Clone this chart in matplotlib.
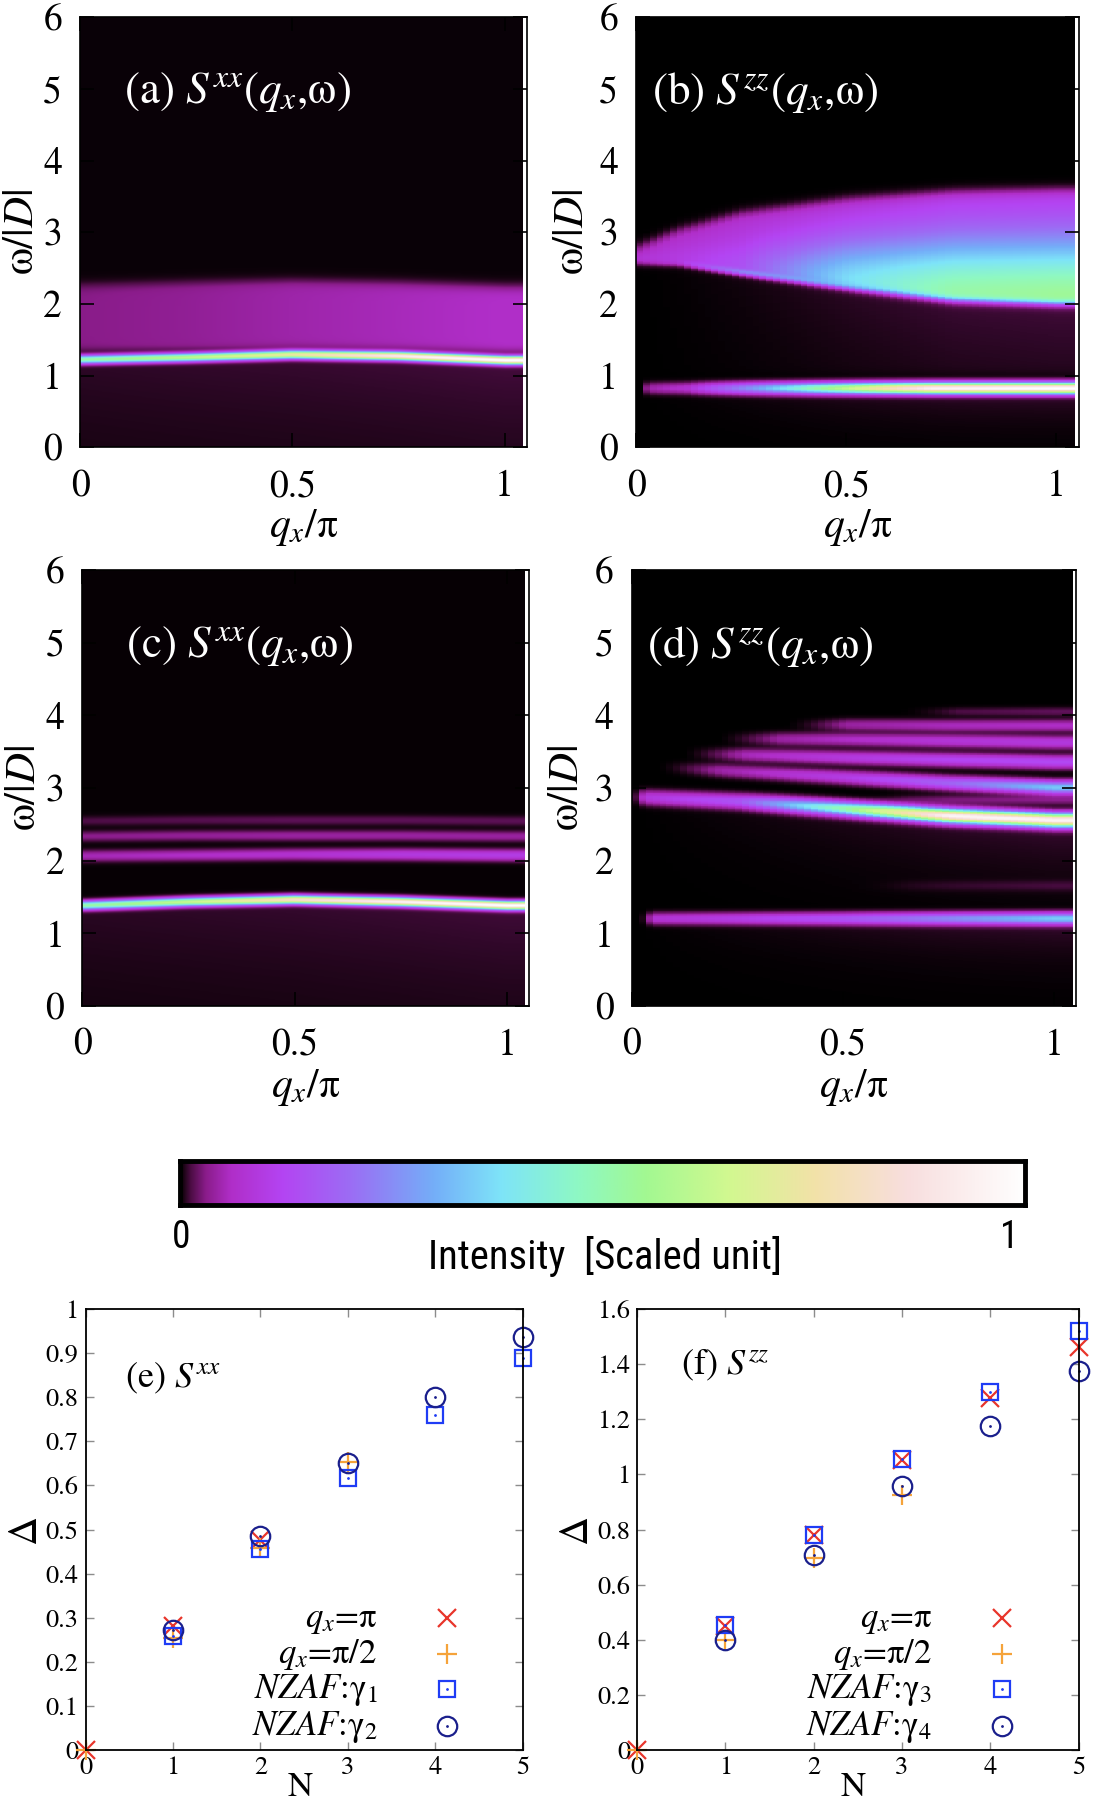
import numpy as np
import matplotlib
matplotlib.use("Agg")
import matplotlib.pyplot as plt
from matplotlib.colors import LinearSegmentedColormap
from matplotlib import font_manager

plt.rcParams["font.family"] = ["STIXGeneral", "DejaVu Serif"]
plt.rcParams["mathtext.fontset"] = "stix"

# ---------------- spectra: band parameters ----------------
QN = [0.0, 0.25, 0.5, 0.75, 1.0]          # q_x/pi nodes

# (a) S^xx
a_line_w = [1.22, 1.25, 1.29, 1.27, 1.21]
a_line_amp = [0.50, 0.60, 0.72, 0.92, 1.00]
a_cont_lo = [1.35, 1.37, 1.40, 1.38, 1.34]
a_cont_hi = [2.25, 2.28, 2.30, 2.27, 2.22]
a_cont_amp = [0.028, 0.034, 0.044, 0.052, 0.060]
a_floor = [0.006, 0.007, 0.008, 0.009, 0.010]

# (b) S^zz
b_low_w = 0.82
b_low_q = [0.0, 0.012, 0.03, 0.12, 0.3, 0.5, 0.7, 1.0]
b_low_amp = [0.0, 0.0, 0.045, 0.07, 0.30, 0.62, 0.95, 1.0]
b_cq = [0.0, 0.1, 0.25, 0.5, 0.75, 1.0]
b_lo = [2.58, 2.57, 2.44, 2.24, 2.06, 2.01]
b_hi = [2.76, 3.00, 3.24, 3.43, 3.53, 3.56]
b_edge = [0.09, 0.10, 0.15, 0.38, 0.52, 0.55]
b_top = [0.06, 0.065, 0.07, 0.07, 0.08, 0.08]
b_edge_line = [0.0, 0.03, 0.15, 0.08, 0.0, 0.0]
b_tail = [0.0, 0.001, 0.003, 0.007, 0.010, 0.011]

# (c) S^xx
c_line_w = [1.38, 1.43, 1.46, 1.43, 1.38]
c_line_amp = [0.50, 0.62, 0.82, 0.95, 1.00]
c_b1_w = [2.06, 2.07, 2.08, 2.08, 2.07]
c_b1_amp = [0.05, 0.06, 0.07, 0.09, 0.10]
c_b2_w = [2.33, 2.34, 2.34, 2.34, 2.33]
c_b2_amp = [0.03, 0.035, 0.04, 0.04, 0.04]
c_b3_w = [2.54, 2.55, 2.55, 2.55, 2.54]
c_b3_amp = [0.012, 0.014, 0.016, 0.016, 0.016]
c_floor = [0.006, 0.007, 0.008, 0.009, 0.010]

# (d) S^zz : centre, amplitude, q where the branch appears, width
d_main_w = [2.87, 2.81, 2.71, 2.61, 2.55]
d_main_amp = [0.08, 0.15, 0.50, 0.95, 0.95]
d_b2_w = [3.30, 3.22, 3.14, 3.06, 3.00]
d_b2_amp = [0.02, 0.05, 0.10, 0.18, 0.34]
d_b3_w = [3.48, 3.45, 3.41, 3.38, 3.35]
d_b3_amp = [0.02, 0.05, 0.09, 0.12, 0.13]
d_b4_w = [3.68, 3.67, 3.66, 3.64, 3.62]
d_b4_amp = [0.0, 0.03, 0.06, 0.08, 0.09]
d_b5_w = [3.86, 3.86, 3.86, 3.85, 3.85]
d_b5_amp = [0.0, 0.0, 0.04, 0.055, 0.06]
d_b6_w = [4.04, 4.04, 4.04, 4.04, 4.04]
d_b6_amp = [0.0, 0.0, 0.0, 0.012, 0.018]
d_side_w = [2.83, 2.83, 2.83, 2.83, 2.83]
d_side_amp = [0.0, 0.0, 0.0, 0.025, 0.03]
d_low_w = [1.20, 1.20, 1.20, 1.20, 1.20]
d_low_amp = [0.07, 0.10, 0.15, 0.24, 0.34]
d_faint_w = [1.65, 1.65, 1.65, 1.65, 1.65]
d_faint_amp = [0.0, 0.0, 0.0, 0.006, 0.009]
d_start = [0.0, 0.06, 0.12, 0.2, 0.36, 0.62, 0.5, 0.02, 0.5]
d_sigma = [0.06, 0.055, 0.055, 0.055, 0.05, 0.04, 0.045, 0.05, 0.05]
d_tail = [0.0, 0.003, 0.006, 0.009, 0.011]

# ---------------- gap data ----------------
N = [0, 1, 2, 3, 4, 5]
e_qpi = [0.0, 0.281, 0.477]
e_qpi2 = [0.0, 0.255, 0.458, 0.654]
e_g1 = [0.258, 0.455, 0.617, 0.759, 0.889]
e_g2 = [0.273, 0.485, 0.652, 0.800, 0.937]
f_qpi = [0.0, 0.450, 0.782, 1.051, 1.277, 1.461]
f_qpi2 = [0.0, 0.400, 0.697, 0.927]
f_g3 = [0.455, 0.782, 1.056, 1.298, 1.519]
f_g4 = [0.401, 0.706, 0.957, 1.177, 1.376]

# ---------------- colour map ----------------
cmap = LinearSegmentedColormap.from_list("spec", [
    (0.000, "#000000"), (0.004, "#1a0414"), (0.012, "#4a0c42"),
    (0.030, "#8a1c8a"), (0.060, "#b02ec8"), (0.120, "#b444f2"),
    (0.200, "#9c6cf4"), (0.300, "#74aef8"), (0.380, "#7ee4f8"),
    (0.470, "#8ef8c4"), (0.550, "#a2f892"), (0.650, "#d2f890"),
    (0.750, "#f2e2a8"), (0.860, "#f8dede"), (1.000, "#ffffff")], N=4096)

Q_END, Q_LIM = 1.043, 1.053
NQ, NW = 64, 600
qc = (np.arange(NQ) + 0.5) * Q_END / NQ
wc = (np.arange(NW) + 0.5) * 6.0 / NW
Q, W = np.meshgrid(qc, wc)


def on_q(nodes, vals):
    return np.interp(Q, nodes, vals)


def line(center, amp, sigma):
    return amp * np.exp(-0.5 * ((W - center) / sigma) ** 2)


def slab(lo, hi, amp, s_lo=0.03, s_hi=0.04):
    return amp / (1 + np.exp(-(W - lo) / s_lo)) / (1 + np.exp((W - hi) / s_hi))


def tail(top, amp, length):
    return np.where(W < top, amp * np.exp(-(top - W) / length), amp)


def ramp(start, width=0.15):
    return np.clip((Q - start) / width, 0, 1) ** 1.5


# (a)
ca = on_q(QN, a_line_w)
I_a = line(ca, on_q(QN, a_line_amp), 0.037)
I_a += slab(on_q(QN, a_cont_lo), on_q(QN, a_cont_hi), on_q(QN, a_cont_amp))
I_a += tail(ca, on_q(QN, a_floor), 1.5) / (1 + np.exp((W - ca - 0.05) / 0.03)) + 0.0015

# (b)
I_b = line(b_low_w, np.interp(Q, b_low_q, b_low_amp), 0.05)
lo = on_q(b_cq, b_lo)
hi = on_q(b_cq, b_hi)
L = 0.58 * (hi - lo)
dd = np.clip(W - lo, 0, None)
top = on_q(b_cq, b_top)
edge = on_q(b_cq, b_edge)
I_b += (top + (edge - top) * np.exp(-(dd / L) ** 2)) * slab(lo, hi, 1.0, 0.025, 0.04)
I_b += line(lo, on_q(b_cq, b_edge_line), 0.03)
I_b += tail(lo, on_q(b_cq, b_tail), 1.5) / (1 + np.exp(-(W - 1.0) / 0.04)) / (1 + np.exp((W - lo) / 0.03))
I_b += tail(b_low_w, on_q(b_cq, b_tail), 0.35) / (1 + np.exp((W - b_low_w) / 0.03))

# (c)
cc = on_q(QN, c_line_w)
I_c = line(cc, on_q(QN, c_line_amp), 0.037)
I_c += line(on_q(QN, c_b1_w), on_q(QN, c_b1_amp), 0.048)
I_c += line(on_q(QN, c_b2_w), on_q(QN, c_b2_amp), 0.045)
I_c += line(on_q(QN, c_b3_w), on_q(QN, c_b3_amp), 0.045)
I_c += tail(cc, on_q(QN, c_floor), 1.5) / (1 + np.exp((W - cc - 0.05) / 0.03)) + 0.001

# (d)
d_bands = [(d_main_w, d_main_amp), (d_b2_w, d_b2_amp), (d_b3_w, d_b3_amp),
           (d_b4_w, d_b4_amp), (d_b5_w, d_b5_amp), (d_b6_w, d_b6_amp),
           (d_side_w, d_side_amp), (d_low_w, d_low_amp), (d_faint_w, d_faint_amp)]
I_d = np.zeros_like(Q)
for (bw, ba), q0, sg in zip(d_bands, d_start, d_sigma):
    rp = ramp(q0) if q0 > 0.05 else ramp(q0, 0.03)
    I_d += line(on_q(QN, bw), on_q(QN, ba) * rp, sg)
cm_d = on_q(QN, d_main_w)
I_d += tail(cm_d, on_q(QN, d_tail), 0.6) / (1 + np.exp(-(W - 1.35) / 0.05)) / (1 + np.exp((W - cm_d) / 0.04))
I_d += tail(1.2, on_q(QN, d_tail), 0.4) / (1 + np.exp((W - 1.2) / 0.04))

# ---------------- figure ----------------
fig = plt.figure(figsize=(11.12, 17.96), dpi=100)

heat_pos = [[0.072, 0.751, 0.402, 0.2394], [0.572, 0.751, 0.398, 0.2394],
            [0.074, 0.4399, 0.402, 0.2428], [0.568, 0.4399, 0.400, 0.2428]]
heat_data = [I_a, I_b, I_c, I_d]
heat_lab = [r"(a) $S^{xx}$($q_x$,ω)", r"(b) $S^{zz}$($q_x$,ω)",
            r"(c) $S^{xx}$($q_x$,ω)", r"(d) $S^{zz}$($q_x$,ω)"]
heat_labx = [0.098, 0.036, 0.098, 0.034]
heat_ylab_x = [-0.085, -0.10, -0.085, -0.10]
heat_interp = ["bilinear", "nearest", "bilinear", "nearest"]

for pos, I, lab, lx, yx, interp in zip(heat_pos, heat_data, heat_lab, heat_labx,
                                       heat_ylab_x, heat_interp):
    ax = fig.add_axes(pos)
    ax.set_facecolor("white")
    ax.imshow(np.clip(I, 0, 1), origin="lower", extent=[0, Q_END, 0, 6], aspect="auto",
              cmap=cmap, vmin=0, vmax=1, interpolation=interp)
    ax.set_xlim(0, Q_LIM)
    ax.set_ylim(0, 6)
    ax.set_xticks([0, 0.5, 1])
    ax.set_xticklabels(["0", "0.5", "1"])
    ax.set_yticks(range(7))
    ax.tick_params(axis="both", direction="in", length=10, width=1.2, color="black",
                   top=True, right=True, labelsize=27)
    ax.tick_params(axis="x", pad=16)
    ax.tick_params(axis="y", pad=13)
    for s in ax.spines.values():
        s.set_linewidth(1.2)
    ax.set_xlabel(r"$q_x$/π", fontsize=30)
    ax.xaxis.set_label_coords(0.5, -0.14)
    ax.set_ylabel(r"ω/|$D$|", fontsize=31)
    ax.yaxis.set_label_coords(yx, 0.5)
    ax.text(lx, 0.825, lab, color="white", fontsize=32.5, transform=ax.transAxes,
            ha="left", va="center")

# colour bar
cax = fig.add_axes([0.162, 0.329, 0.760, 0.0245])
cax.imshow(np.linspace(0, 1, 1024)[None, :], aspect="auto", cmap=cmap,
           extent=[0, 1, 0, 1], interpolation="bilinear")
cax.set_xticks([])
cax.set_yticks([])
for s in cax.spines.values():
    s.set_linewidth(3.5)

names = {f.name for f in font_manager.fontManager.ttflist}
cb_family = "DejaVu Sans"
for cand in ["Liberation Sans Narrow", "Roboto Condensed", "DejaVu Sans Condensed", "Roboto"]:
    if cand in names:
        cb_family = cand
        break
fig.text(0.163, 0.311, "0", family=cb_family, fontsize=27, ha="center", va="center")
fig.text(0.908, 0.311, "1", family=cb_family, fontsize=27, ha="center", va="center")
cb_lab = fig.text(0.544, 0.3005, "Intensity  [Scaled unit]", family=cb_family, fontsize=22,
                  ha="center", va="center")
fig.canvas.draw()
w_px = cb_lab.get_window_extent().width
cb_lab.set_fontsize(22 * 354.0 / w_px)

# gap panels
RED, ORANGE, BLUE, NAVY = "#e8352b", "#f5a33a", "#1f3cf5", "#1a1f8c"


def gap_panel(pos, qpi, qpi2, g_sq, g_ci, ymax, yticks, label, labx, laby, names_leg):
    ax = fig.add_axes(pos)
    ax.plot(N[:len(qpi)], qpi, ls="none", marker="x", ms=13, mew=1.6, color=RED, clip_on=False)
    ax.plot(N[:len(qpi2)], qpi2, ls="none", marker="+", ms=14, mew=1.6, color=ORANGE, clip_on=False)
    ax.plot(N[1:], g_sq, ls="none", marker="s", ms=12, mew=1.6, mfc="none", mec=BLUE, clip_on=False)
    ax.plot(N[1:], g_sq, ls="none", marker=".", ms=2, color=BLUE, clip_on=False)
    ax.plot(N[1:], g_ci, ls="none", marker="o", ms=14, mew=1.6, mfc="none", mec=NAVY, clip_on=False)
    ax.plot(N[1:], g_ci, ls="none", marker=".", ms=2, color=NAVY, clip_on=False)
    ax.set_xlim(0, 5)
    ax.set_ylim(0, ymax)
    ax.set_xticks(N)
    ax.set_yticks(yticks)
    ax.set_yticklabels([f"{t:g}" for t in yticks])
    ax.tick_params(axis="both", direction="in", length=6, width=1, color="#8c8c8c",
                   top=True, right=True, labelsize=19)
    ax.tick_params(axis="x", pad=4)
    ax.tick_params(axis="y", pad=5)
    for s in ax.spines.values():
        s.set_linewidth(1.3)
    ax.set_xlabel("N", fontsize=25)
    ax.xaxis.set_label_coords(0.49, -0.05)
    ax.set_ylabel("Δ", fontsize=29)
    ax.yaxis.set_label_coords(-0.095, 0.5)
    ax.text(labx, laby, label, fontsize=26, transform=ax.transAxes, ha="left", va="center")
    # key
    rows = [0.299, 0.218, 0.138, 0.054]
    styles = [dict(marker="x", ms=13, mew=1.6, color=RED),
              dict(marker="+", ms=14, mew=1.6, color=ORANGE),
              dict(marker="s", ms=12, mew=1.6, mfc="none", mec=BLUE),
              dict(marker="o", ms=14, mew=1.6, mfc="none", mec=NAVY)]
    for yr, st, nm in zip(rows, styles, names_leg):
        ax.text(0.668, yr - 0.02, nm, fontsize=25, transform=ax.transAxes,
                ha="right", va="baseline")
        ax.plot([0.827], [yr], ls="none", transform=ax.transAxes, **st)
        if st["marker"] in ("s", "o"):
            ax.plot([0.827], [yr], ls="none", marker=".", ms=2,
                    color=st["mec"], transform=ax.transAxes)
    return ax


gap_panel([0.077, 0.0256, 0.393, 0.2455], e_qpi, e_qpi2, e_g1, e_g2, 1.0,
          [0, 0.1, 0.2, 0.3, 0.4, 0.5, 0.6, 0.7, 0.8, 0.9, 1.0],
          r"(e) $S^{xx}$", 0.09, 0.843,
          [r"$q_x$=π", r"$q_x$=π/2", r"$NZAF$:γ$_{\mathit{1}}$", r"$NZAF$:γ$_{\mathit{2}}$"])
gap_panel([0.573, 0.0256, 0.397, 0.2455], f_qpi, f_qpi2, f_g3, f_g4, 1.6,
          [0, 0.2, 0.4, 0.6, 0.8, 1.0, 1.2, 1.4, 1.6],
          r"(f) $S^{zz}$", 0.10, 0.873,
          [r"$q_x$=π", r"$q_x$=π/2", r"$NZAF$:γ$_{\mathit{3}}$", r"$NZAF$:γ$_{\mathit{4}}$"])

fig.savefig("out.png", dpi=100)
